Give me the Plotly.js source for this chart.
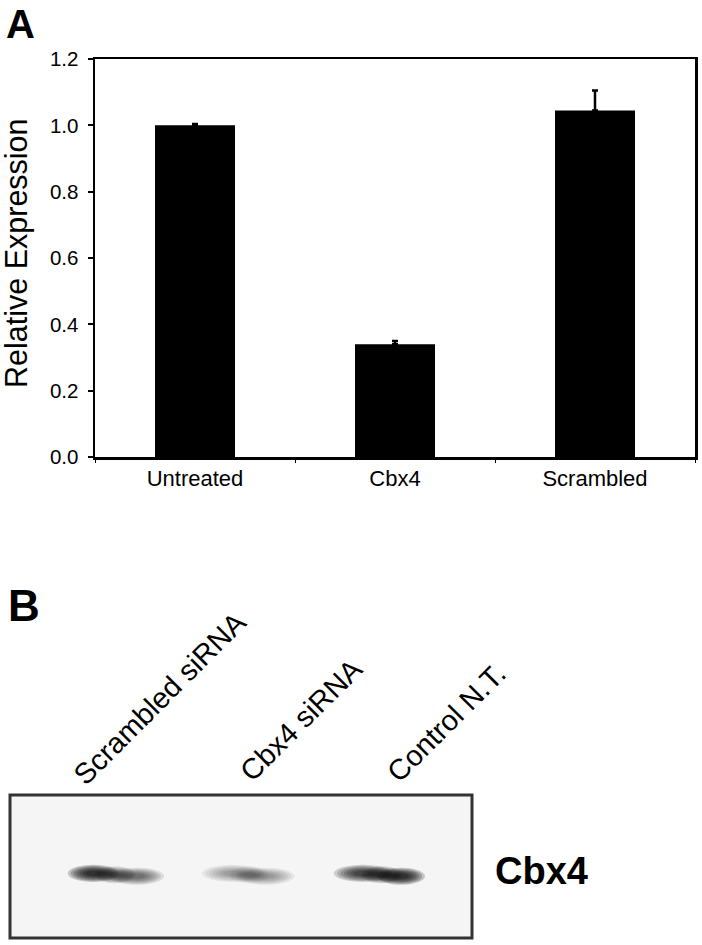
<!DOCTYPE html>
<html>
<head>
<meta charset="utf-8">
<script src="https://cdn.plot.ly/plotly-3.0.1.min.js"></script>
<style>
  html, body { margin: 0; padding: 0; background: #ffffff; }
  #chart { width: 702px; height: 945px; }
</style>
</head>
<body>
<div id="chart"></div>
<script>
// ---------- DATA ----------
var categories = ['Untreated', 'Cbx4', 'Scrambled'];
var relativeExpression = [1.0, 0.34, 1.045];
var errorUpper = [0.004, 0.01, 0.06];

var laneLabels = ['Scrambled siRNA', 'Cbx4 siRNA', 'Control N.T.'];
var bandLabel = 'Cbx4';
// estimated band darkness (0..1) for the left and right halves of each lane
var bandLeftDensity = [1.0, 0.3, 0.8];
var bandRightDensity = [0.5, 0.32, 1.0];

// ---------- LAYOUT HELPERS ----------
var W = 695, H = 945;               // plotting area in px (margin r = 7)
function px(X) { return X / W; }
function py(Y) { return 1 - Y / H; }
var FONT = 'Arial, "Liberation Sans", Helvetica, sans-serif';

var traces = [
  {
    type: 'bar',
    x: categories,
    y: relativeExpression,
    marker: { color: '#000000', line: { width: 0 } },
    error_y: {
      type: 'data', symmetric: false,
      array: errorUpper,
      arrayminus: errorUpper.map(function () { return 0; }),
      color: '#000000', thickness: 2.5, width: 3
    },
    hoverinfo: 'x+y',
    xaxis: 'x', yaxis: 'y'
  },
  {
    // anchor trace for the blot axes (lane centres)
    type: 'scatter', mode: 'markers',
    x: laneLabels.map(function (d, i) { return i; }),
    y: laneLabels.map(function () { return 0.44; }),
    marker: { opacity: 0, size: 1 },
    text: laneLabels, hoverinfo: 'text',
    xaxis: 'x2', yaxis: 'y2', showlegend: false
  }
];

var shapes = [];
// blot membrane
shapes.push({
  type: 'rect', xref: 'x2 domain', yref: 'y2 domain',
  x0: 0, x1: 1, y0: 0, y1: 1,
  fillcolor: '#f5f5f5', line: { color: '#333333', width: 3 }, layer: 'below'
});

// band geometry per lane (style only): [leftOffset, leftHalfW, rightOffset, rightHalfW]
var bandGeom = [
  [-0.18, 0.15, 0.15, 0.16],
  [-0.12, 0.18, 0.13, 0.17],
  [-0.13, 0.17, 0.16, 0.14]
];
var bandY = 0.44;
var layers = [1.3, 1.15, 1.0, 0.85, 0.7, 0.55, 0.4];
laneLabels.forEach(function (lab, i) {
  var g = bandGeom[i];
  var dl = bandLeftDensity[i], dr = bandRightDensity[i];
  var blobs = [
    [g[0], g[1], dl, 0.012],
    [(g[0] + g[2]) / 2, 0.12, (dl + dr) / 2 * 0.7, 0.002],
    [g[2], g[3], dr, -0.008]
  ];
  blobs.forEach(function (b) {
    layers.forEach(function (s) {
      shapes.push({
        type: 'circle', xref: 'x2', yref: 'y2',
        x0: i + b[0] - b[1] * s, x1: i + b[0] + b[1] * s,
        y0: bandY + b[3] - 0.046 * s, y1: bandY + b[3] + 0.046 * s,
        fillcolor: 'rgba(0,0,0,' + (b[2] * 0.2).toFixed(3) + ')',
        line: { width: 0 }, layer: 'above'
      });
    });
  });
});

var annotations = [
  { text: '<b>A</b>', x: px(4), y: py(0), xanchor: 'left', yanchor: 'top',
    font: { size: 40, family: FONT, color: '#000' } },
  { text: '<b>B</b>', x: px(6), y: py(605), xanchor: 'left', yanchor: 'middle',
    font: { size: 44, family: FONT, color: '#000' } },
  { text: 'Relative Expression', x: px(17), y: py(253), xanchor: 'center', yanchor: 'middle',
    textangle: -90, font: { size: 30.5, family: FONT, color: '#000' } },
  { text: '<b>' + bandLabel + '</b>', x: px(541), y: py(871), xanchor: 'center', yanchor: 'middle',
    font: { size: 38, family: FONT, color: '#000' } }
];
var laneCentres = [[160, 698], [301, 720], [446, 723]];
laneLabels.forEach(function (lab, i) {
  annotations.push({
    text: lab, x: px(laneCentres[i][0]), y: py(laneCentres[i][1]),
    xanchor: 'center', yanchor: 'middle', textangle: -45,
    font: { size: 29, family: FONT, color: '#000' }
  });
});
annotations.forEach(function (a) { a.xref = 'paper'; a.yref = 'paper'; a.showarrow = false; });

var layout = {
  width: 702, height: 945,
  margin: { l: 0, r: 7, t: 0, b: 0, pad: 0 },
  paper_bgcolor: '#ffffff', plot_bgcolor: 'rgba(0,0,0,0)',
  showlegend: false,
  bargap: 0.6,
  font: { family: FONT, color: '#000' },
  xaxis: {
    domain: [px(95), 1], anchor: 'y', type: 'category',
    range: [-0.5, 2.5],
    showline: true, linecolor: '#000', linewidth: 2.5, mirror: true,
    ticks: 'outside', tickson: 'boundaries', ticklen: 3, tickwidth: 1, tickcolor: '#000',
    tickfont: { size: 22, family: FONT, color: '#000' },
    showgrid: false, zeroline: false, fixedrange: true
  },
  yaxis: {
    domain: [py(457), py(59)], anchor: 'x',
    range: [0, 1.2], dtick: 0.2, tick0: 0, tickformat: '.1f',
    showline: true, linecolor: '#000', linewidth: 2.5, mirror: true,
    ticks: 'outside', ticklen: 5, tickwidth: 2, tickcolor: '#000',
    ticklabelstandoff: 5,
    tickfont: { size: 20.5, family: FONT, color: '#000' },
    showgrid: false, zeroline: false, fixedrange: true
  },
  xaxis2: {
    domain: [px(10), px(472)], anchor: 'y2',
    range: [-0.814, 2.70], visible: false, fixedrange: true
  },
  yaxis2: {
    domain: [py(938), py(795)], anchor: 'x2',
    range: [0, 1], visible: false, fixedrange: true
  },
  shapes: shapes,
  annotations: annotations
};

Plotly.newPlot('chart', traces, layout, { displayModeBar: false, staticPlot: true });
</script>
</body>
</html>
